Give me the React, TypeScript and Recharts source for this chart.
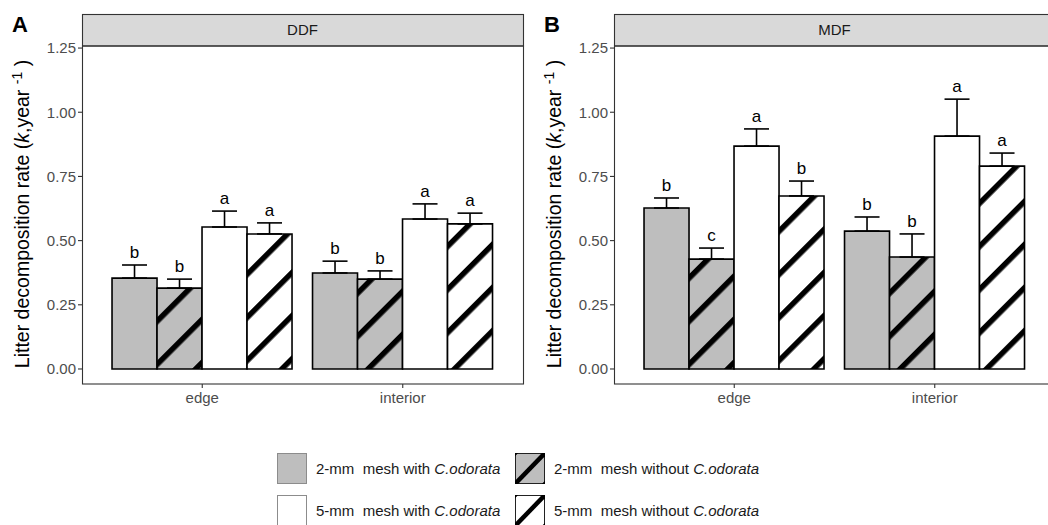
import React from 'react';
import { BarChart, Bar, XAxis, YAxis, ErrorBar, LabelList } from 'recharts';

const categories = ['edge', 'interior'];
const seriesNames = ['2-mm  mesh with ', '2-mm  mesh without ', '5-mm  mesh with ', '5-mm  mesh without '];
const seriesFills = ['#bebebe', '#bebebe', '#ffffff', '#ffffff'];
const seriesHatched = [false, true, false, true];
const yTicks = [0, 0.25, 0.5, 0.75, 1.0, 1.25];

// rows = categories (edge, interior); columns = series
const ddfMeans = [
  [0.354, 0.315, 0.553, 0.526],
  [0.374, 0.350, 0.584, 0.565],
];
const ddfSe = [
  [0.051, 0.035, 0.062, 0.043],
  [0.046, 0.032, 0.059, 0.042],
];
const ddfLetters = [
  ['b', 'b', 'a', 'a'],
  ['b', 'b', 'a', 'a'],
];
const mdfMeans = [
  [0.627, 0.428, 0.868, 0.674],
  [0.537, 0.436, 0.907, 0.790],
];
const mdfSe = [
  [0.039, 0.043, 0.067, 0.058],
  [0.055, 0.090, 0.144, 0.051],
];
const mdfLetters = [
  ['b', 'c', 'a', 'b'],
  ['b', 'b', 'a', 'a'],
];

const FONT = '"Liberation Sans", Arial, Helvetica, sans-serif';
const PW = 530;
const PH = 420;
const PLOT_L = 82;
const PLOT_R = 523;
const PLOT_T = 46;
const PLOT_B = 384;

function buildRows(means: number[][], se: number[][], letters: string[][]) {
  return categories.map((cat, ci) => {
    const row: any = { cat };
    means[ci].forEach((m, si) => {
      row[`m${si}`] = m;
      row[`e${si}`] = se[ci][si];
      row[`err${si}`] = [0, se[ci][si]];
      row[`l${si}`] = letters[ci][si];
    });
    return row;
  });
}

const LetterLabel = (p: any) => {
  const { x, y, width, value } = p;
  return (
    <text x={x + width / 2} y={y - 7} textAnchor="middle" fontSize={17} fill="#000" fontFamily={FONT}>
      {value}
    </text>
  );
};

function Panel({ id, letter, strip, rows }: { id: string; letter: string; strip: string; rows: any[] }) {
  const grayHatch = `hatchGray${id}`;
  const whiteHatch = `hatchWhite${id}`;
  const fillFor = (i: number) =>
    seriesHatched[i] ? `url(#${seriesFills[i] === '#ffffff' ? whiteHatch : grayHatch})` : seriesFills[i];
  const bars: any[] = [];
  seriesNames.forEach((_, i) => {
    bars.push(
      <Bar
        key={`m${i}`}
        dataKey={`m${i}`}
        stackId={`s${i}`}
        fill={fillFor(i)}
        stroke="#000"
        strokeWidth={1.6}
        isAnimationActive={false}
      >
        <ErrorBar dataKey={`err${i}`} width={12.5} stroke="#000" strokeWidth={1.6} direction="y" />
      </Bar>
    );
    bars.push(
      <Bar
        key={`e${i}`}
        dataKey={`e${i}`}
        stackId={`s${i}`}
        fill="none"
        stroke="none"
        isAnimationActive={false}
      >
        <LabelList dataKey={`l${i}`} content={LetterLabel} />
      </Bar>
    );
  });
  const midY = (PLOT_T + PLOT_B) / 2 - 1;
  return (
    <div style={{ position: 'absolute', left: 0, top: 0, width: PW, height: PH }}>
      <BarChart
        width={PW}
        height={PH}
        data={rows}
        margin={{ top: PLOT_T, right: PW - PLOT_R, bottom: PH - PLOT_B - 30, left: 0 }}
        barCategoryGap="5%"
        barGap={0}
      >
        <defs>
          <pattern id={grayHatch} patternUnits="userSpaceOnUse" width={30.5} height={30.5} patternTransform="rotate(45)">
            <rect x={0} y={0} width={30.5} height={30.5} fill="#bebebe" />
            <rect x={0} y={0} width={5.5} height={30.5} fill="#000" />
          </pattern>
          <pattern id={whiteHatch} patternUnits="userSpaceOnUse" width={30.5} height={30.5} patternTransform="rotate(45)">
            <rect x={0} y={0} width={30.5} height={30.5} fill="#ffffff" />
            <rect x={0} y={0} width={5.5} height={30.5} fill="#000" />
          </pattern>
        </defs>
        <XAxis
          dataKey="cat"
          type="category"
          padding={{ left: 20, right: 20 }}
          axisLine={false}
          tickLine={{ stroke: '#333', strokeWidth: 1.1 }}
          tickSize={4}
          tickMargin={4}
          height={30}
          interval={0}
          tick={{ fontSize: 15, fill: '#4d4d4d', fontFamily: FONT }}
        />
        <YAxis
          type="number"
          domain={[-0.0585, 1.258]}
          allowDataOverflow
          ticks={yTicks}
          tickFormatter={(v: number) => v.toFixed(2)}
          width={PLOT_L}
          axisLine={false}
          tickLine={{ stroke: '#333', strokeWidth: 1.1 }}
          tickSize={4}
          tickMargin={2}
          tick={{ fontSize: 15, fill: '#4d4d4d', fontFamily: FONT }}
        />
        {bars}
      </BarChart>
      <svg
        width={PW}
        height={PH}
        style={{ position: 'absolute', left: 0, top: 0, pointerEvents: 'none', overflow: 'visible' }}
        fontFamily={FONT}
      >
        <text x={12} y={32} fontSize={22} fontWeight="bold" fill="#000">
          {letter}
        </text>
        <rect x={PLOT_L + 0.5} y={14.5} width={PLOT_R - PLOT_L} height={PLOT_T - 14.5} fill="#d9d9d9" stroke="#333" strokeWidth={1.1} />
        <text x={(PLOT_L + PLOT_R) / 2} y={35} textAnchor="middle" fontSize={15} fill="#1a1a1a">
          {strip}
        </text>
        <rect x={PLOT_L + 0.5} y={PLOT_T} width={PLOT_R - PLOT_L} height={PLOT_B - PLOT_T} fill="none" stroke="#333" strokeWidth={1.1} />
        <text transform={`translate(29, ${midY}) rotate(-90)`} textAnchor="middle" fontSize={19.5} fill="#000">
          <tspan>Litter decomposition rate (</tspan>
          <tspan fontStyle="italic">k</tspan>
          <tspan>,year </tspan>
          <tspan fontSize={14} dy={-7}>-1</tspan>
          <tspan dy={7}> )</tspan>
        </text>
      </svg>
    </div>
  );
}

function Legend() {
  const keyW = 30;
  const keyH = 31;
  const cols = [277, 515];
  const rowsY = [453, 495];
  return (
    <svg width={1048} height={525} style={{ position: 'absolute', left: 0, top: 0 }} fontFamily={FONT}>
      <defs>
        <clipPath id="legClip0"><rect x={cols[1]} y={rowsY[0]} width={keyW} height={keyH} /></clipPath>
        <clipPath id="legClip1"><rect x={cols[1]} y={rowsY[1]} width={keyW} height={keyH} /></clipPath>
      </defs>
      {seriesNames.map((n, si) => {
        const col = si % 2;
        const row = Math.floor(si / 2);
        const x = cols[col];
        const y = rowsY[row];
        const hatched = seriesHatched[si];
        return (
          <g key={si}>
            <rect x={x + 0.5} y={y + 0.5} width={keyW - 1} height={keyH - 1} fill={seriesFills[si]} stroke={hatched ? '#222' : '#8c8c8c'} strokeWidth={1} />
            {hatched && (
              <g clipPath={`url(#legClip${row})`}>
                <line x1={x} y1={y + keyH} x2={x + keyW} y2={y} stroke="#000" strokeWidth={4.5} />
                <line x1={x - 4} y1={y + 4} x2={x + 4} y2={y - 4} stroke="#000" strokeWidth={4.5} />
                <line x1={x + keyW - 4} y1={y + keyH + 4} x2={x + keyW + 4} y2={y + keyH - 4} stroke="#000" strokeWidth={4.5} />
              </g>
            )}
            <text x={x + keyW + 9} y={y + 21} fontSize={15} fill="#1a1a1a" style={{ whiteSpace: 'pre' }}>
              {n}
              <tspan fontStyle="italic">C.odorata</tspan>
            </text>
          </g>
        );
      })}
    </svg>
  );
}

export default function App() {
  const ddfRows = buildRows(ddfMeans, ddfSe, ddfLetters);
  const mdfRows = buildRows(mdfMeans, mdfSe, mdfLetters);
  return (
    <div
      style={{
        position: 'fixed',
        left: 0,
        top: 0,
        width: 1048,
        height: 525,
        overflow: 'hidden',
        background: '#fff',
        fontFamily: FONT,
      }}
    >
      <div style={{ position: 'absolute', left: 0, top: 0, width: PW, height: PH }}>
        <Panel id="A" letter="A" strip="DDF" rows={ddfRows} />
      </div>
      <div style={{ position: 'absolute', left: 532, top: 0, width: PW, height: PH }}>
        <Panel id="B" letter="B" strip="MDF" rows={mdfRows} />
      </div>
      <Legend />
    </div>
  );
}
